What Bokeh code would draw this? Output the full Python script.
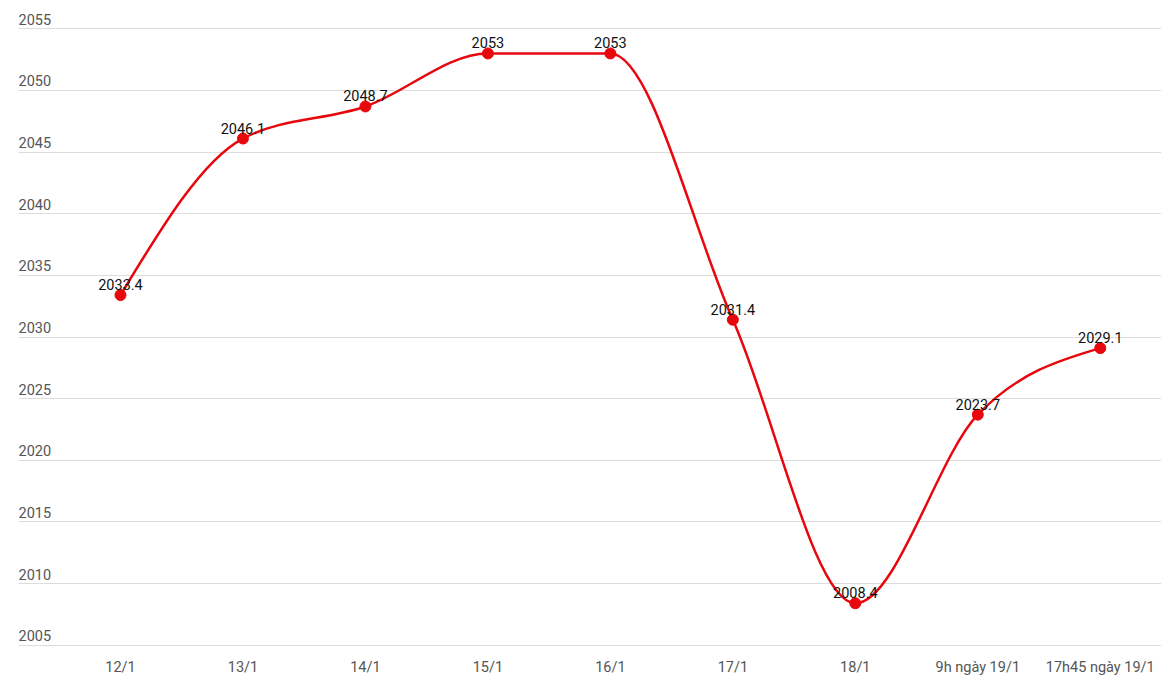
from bokeh.plotting import figure
from bokeh.models import Range1d, FixedTicker, ColumnDataSource
from bokeh.core.properties import value
from bokeh.embed import file_html
from bokeh.resources import INLINE

categories = ["12/1", "13/1", "14/1", "15/1", "16/1", "17/1", "18/1", "9h ngày 19/1", "17h45 ngày 19/1"]
prices = [2033.4, 2046.1, 2048.7, 2053, 2053, 2031.4, 2008.4, 2023.7, 2029.1]
y_ticks = [2005, 2010, 2015, 2020, 2025, 2030, 2035, 2040, 2045, 2050, 2055]

RED = "#e8070d"
FONT = "Roboto"

xs = list(range(len(categories)))
ys = prices

# monotone-X cubic tangents (d3 style) for drawing the smoothed line
def sign(v):
    return (v > 0) - (v < 0)

n = len(xs)
slopes = [(ys[i + 1] - ys[i]) / (xs[i + 1] - xs[i]) for i in range(n - 1)]
tang = [0.0] * n
for i in range(1, n - 1):
    h0 = xs[i] - xs[i - 1]
    h1 = xs[i + 1] - xs[i]
    s0, s1 = slopes[i - 1], slopes[i]
    pp = (s0 * h1 + s1 * h0) / (h0 + h1)
    tang[i] = (sign(s0) + sign(s1)) * min(abs(s0), abs(s1), 0.5 * abs(pp)) or 0.0
tang[0] = (3 * slopes[0] - tang[1]) / 2
tang[-1] = (3 * slopes[-1] - tang[-2]) / 2

seg = dict(x0=[], y0=[], x1=[], y1=[], cx0=[], cy0=[], cx1=[], cy1=[])
for i in range(n - 1):
    dx = (xs[i + 1] - xs[i]) / 3
    seg["x0"].append(xs[i]); seg["y0"].append(ys[i])
    seg["x1"].append(xs[i + 1]); seg["y1"].append(ys[i + 1])
    seg["cx0"].append(xs[i] + dx); seg["cy0"].append(ys[i] + dx * tang[i])
    seg["cx1"].append(xs[i + 1] - dx); seg["cy1"].append(ys[i + 1] - dx * tang[i + 1])

x_left = -(120 - 18) / 122.5
x_right = 8.5
px_per_unit = (644.7 - 28.3) / 50.0
y_top = 2055 + (28.3 - 8) / px_per_unit
y_bot = 2005 - (646 - 644.7) / px_per_unit

p = figure(width=1161, height=686, output_backend="svg", toolbar_location=None,
           x_range=Range1d(x_left, x_right), y_range=Range1d(y_bot, y_top),
           min_border_left=18, min_border_right=0, min_border_top=8, min_border_bottom=40)
p.outline_line_color = None
p.background_fill_color = "white"
p.border_fill_color = "white"

p.yaxis.visible = False
p.yaxis.ticker = FixedTicker(ticks=y_ticks)
p.ygrid.ticker = FixedTicker(ticks=y_ticks)
p.ygrid.grid_line_color = "#dcdcdc"
p.ygrid.grid_line_width = 1
p.xgrid.visible = False

p.xaxis.ticker = FixedTicker(ticks=xs)
p.xaxis.major_label_overrides = {i: c for i, c in enumerate(categories)}
p.xaxis.axis_line_color = None
p.xaxis.major_tick_line_color = None
p.xaxis.minor_tick_line_color = None
p.xaxis.major_label_standoff = 6
p.xaxis.major_label_text_font = FONT
p.xaxis.major_label_text_font_size = "14.5px"
p.xaxis.major_label_text_color = "#555555"

# y tick labels drawn above gridlines at the left edge
ysrc = ColumnDataSource(dict(x=[x_left] * len(y_ticks), y=y_ticks, t=[str(v) for v in y_ticks]))
p.text(x="x", y="y", text="t", source=ysrc, text_font=value(FONT), text_font_size="14.5px",
       text_color="#555555", text_baseline="bottom", text_align="left", y_offset=-4)

p.bezier(x0="x0", y0="y0", x1="x1", y1="y1", cx0="cx0", cy0="cy0", cx1="cx1", cy1="cy1",
         source=ColumnDataSource(seg), line_color=RED, line_width=2.5)

src = ColumnDataSource(dict(x=xs, y=ys, t=[("%g" % v) for v in ys]))
p.scatter(x="x", y="y", source=src, size=11, fill_color=RED, line_color=RED)
p.text(x="x", y="y", text="t", source=src, text_font=value(FONT), text_font_size="14.5px",
       text_color="#111111", text_align="center", text_baseline="bottom", y_offset=-5)

open("out.html", "w").write(file_html(p, INLINE))
